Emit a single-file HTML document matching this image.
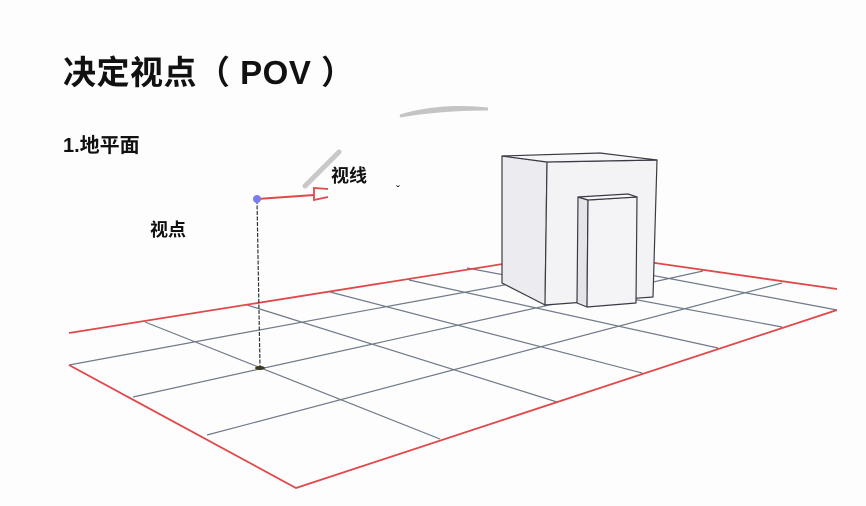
<!DOCTYPE html>
<html><head><meta charset="utf-8"><style>
html,body{margin:0;padding:0;background:#fdfdfd;}
svg{display:block}
text{font-family:"Liberation Sans","Noto Sans CJK SC",sans-serif;fill:#111;}
</style></head><body>
<svg width="866" height="506" viewBox="0 0 866 506" xmlns="http://www.w3.org/2000/svg">
<rect width="866" height="506" fill="#fdfdfd"/>
<text x="63" y="84" font-size="33" font-weight="bold" letter-spacing="0.5">决定视点（ POV ）</text>
<text x="63" y="152" font-size="20" font-weight="bold">1.地平面</text>
<text x="331" y="182" font-size="18" font-weight="bold">视线</text>
<text x="150" y="236" font-size="18" font-weight="bold">视点</text>
<text x="396" y="194" font-size="12" fill="#333">ˇ</text>
<path d="M400 116 Q440 104 488 109 Q440 109 400 116 Z" fill="#c4c4c4" stroke="#c4c4c4" stroke-width="3"/>
<path d="M305 186 L339 152" stroke="#c8c8c8" stroke-width="5" stroke-linecap="round"/>
<g stroke="#6f7a88" stroke-width="1.2" fill="none">
<line x1="440" y1="439" x2="145" y2="322"/>
<line x1="557" y1="402" x2="247" y2="305"/>
<line x1="642" y1="373" x2="330" y2="292"/>
<line x1="718" y1="348" x2="409" y2="280"/>
<line x1="782" y1="327" x2="467" y2="268"/>
<line x1="837" y1="310" x2="560" y2="258"/>
<line x1="207" y1="435" x2="782" y2="283"/>
<line x1="133" y1="397" x2="703" y2="271"/>
<line x1="69" y1="365" x2="640" y2="260"/>
</g>
<g stroke="#e0484a" stroke-width="1.8" fill="none">
<polyline points="69,333 578,252 837,289"/>
<polyline points="69,365 296,488 837,310"/>
</g>
<g stroke="#3a3a44" stroke-width="1.2" stroke-linejoin="round">
<polygon points="502,156 547,162 545,305 502,283" fill="#ececf0"/>
<polygon points="547,162 657,160 653,297 545,305" fill="#f3f3f6"/>
<polygon points="502,156 600,153 657,160 547,162" fill="#f6f6f8"/>
<polygon points="578,197 588,200 587,307 577,303" fill="#e4e4e9"/>
<polygon points="588,200 637,197 636,303 587,307" fill="#f4f4f7"/>
<polygon points="578,197 628,194 637,197 588,200" fill="#f8f8fa"/>
</g>
<line x1="257" y1="200" x2="260" y2="367" stroke="#333" stroke-width="1.2" stroke-dasharray="4 1.5"/>
<ellipse cx="260" cy="368" rx="5" ry="2" fill="#3a3a20"/>
<line x1="257" y1="199" x2="314" y2="195" stroke="#e0484a" stroke-width="2"/>
<path d="M328 189 L314 188 L314 200 L328 197" fill="none" stroke="#e0484a" stroke-width="1.8"/>
<circle cx="257" cy="199" r="4" fill="#7b7bf0"/>
</svg>
</body></html>
